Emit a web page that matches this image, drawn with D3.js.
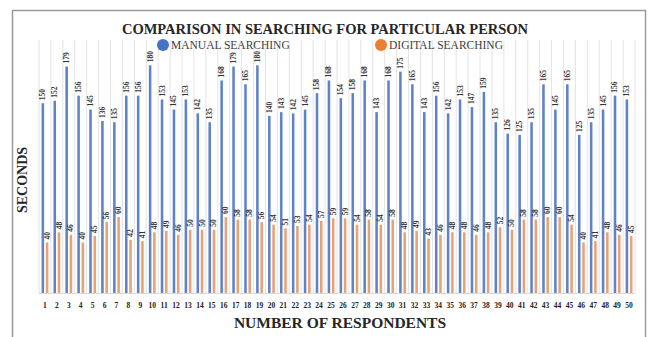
<!DOCTYPE html>
<html><head><meta charset="utf-8">
<script src="https://cdn.jsdelivr.net/npm/d3@7"></script>
<style>body{margin:0;background:#fff}svg{display:block}</style>
</head><body>
<script>
const respondents = d3.range(1, 51).map(String);
const manual = [150,152,179,156,145,136,135,156,156,180,153,145,153,142,135,168,179,165,180,140,143,142,145,158,168,154,158,168,143,168,175,165,143,156,142,153,147,159,135,126,125,135,165,145,165,125,135,145,156,153];
const digital = [40,48,46,40,45,56,60,42,41,48,49,46,50,50,50,60,58,58,56,54,51,53,54,57,59,59,54,58,54,58,48,49,43,46,48,48,46,48,52,50,58,58,60,60,54,40,41,48,46,45];
const seriesNames = ["MANUAL SEARCHING", "DIGITAL SEARCHING"];
const title = "COMPARISON IN SEARCHING FOR PARTICULAR PERSON";
const yTitle = "SECONDS";
const xTitle = "NUMBER OF RESPONDENTS";

const W = 651, H = 337;
const serif = "'Liberation Serif','Times New Roman',serif";
const svg = d3.select("body").append("svg").attr("width", W).attr("height", H);

svg.append("rect").attr("x", 12.5).attr("y", 10.5).attr("width", 633).attr("height", 330)
  .attr("fill", "#fff").attr("stroke", "#9a9a9a").attr("stroke-width", 1.5);

const x = d3.scaleBand().domain(respondents).range([39, 635]).padding(0);
const y = d3.scaleLinear().domain([0, 200]).range([293, 40]);
const sub = d3.scaleBand().domain([0, 1]).range([0, x.bandwidth()]).paddingInner(0.4).paddingOuter(0.6);

// vertical gridlines
svg.append("g").selectAll("line").data(respondents.concat(["end"])).join("line")
  .attr("x1", (d, i) => 39 + i * x.bandwidth()).attr("x2", (d, i) => 39 + i * x.bandwidth())
  .attr("y1", 40).attr("y2", 293).attr("stroke", "#e4e4e4").attr("stroke-width", 1);

const colors = ["#5f83c9", "#e9a176"];
const legendColors = ["#4472C4", "#ED7D31"];
const data = [manual, digital];

data.forEach((vals, s) => {
  const g = svg.append("g");
  g.selectAll("rect").data(vals).join("rect")
    .attr("x", (d, i) => x(respondents[i]) + sub(s))
    .attr("width", sub.bandwidth())
    .attr("y", d => y(d))
    .attr("height", d => y(0) - y(d))
    .attr("fill", colors[s]);
  g.selectAll("text").data(vals).join("text")
    .attr("transform", (d, i) => `translate(${x(respondents[i]) + sub(s) + sub.bandwidth() / 2 + 2.5},${y(d) - 3}) rotate(-90)`)
    .attr("font-family", serif).attr("font-size", 7.5).attr("font-weight", "bold").attr("fill", "#333")
    .text(d => d);
});

// x axis labels
svg.append("g").selectAll("text").data(respondents).join("text")
  .attr("x", d => x(d) + x.bandwidth() / 2).attr("y", 308)
  .attr("text-anchor", "middle").attr("font-family", serif).attr("font-size", 7.5).attr("font-weight", "bold").attr("fill", "#222")
  .text(d => d);

svg.append("line").attr("x1", 39).attr("x2", 635).attr("y1", 293.5).attr("y2", 293.5).attr("stroke", "#d9d9d9");

// title
svg.append("text").attr("x", 325).attr("y", 34).attr("text-anchor", "middle")
  .attr("font-family", serif).attr("font-size", 14.5).attr("font-weight", "bold").attr("fill", "#262626")
  .text(title);

// legend
const legX = [163, 381];
seriesNames.forEach((n, i) => {
  svg.append("circle").attr("cx", legX[i]).attr("cy", 45).attr("r", 6).attr("fill", legendColors[i]);
  svg.append("text").attr("x", legX[i] + 8).attr("y", 49).attr("font-family", serif).attr("font-size", 11.5)
    .attr("fill", "#404040").text(n);
});

// axis titles
svg.append("text").attr("transform", "translate(27,180) rotate(-90)").attr("text-anchor", "middle")
  .attr("font-family", serif).attr("font-size", 14).attr("font-weight", "bold").attr("fill", "#262626").text(yTitle);
svg.append("text").attr("x", 340).attr("y", 328).attr("text-anchor", "middle")
  .attr("font-family", serif).attr("font-size", 15.5).attr("font-weight", "bold").attr("fill", "#262626").text(xTitle);
</script>
</body></html>
